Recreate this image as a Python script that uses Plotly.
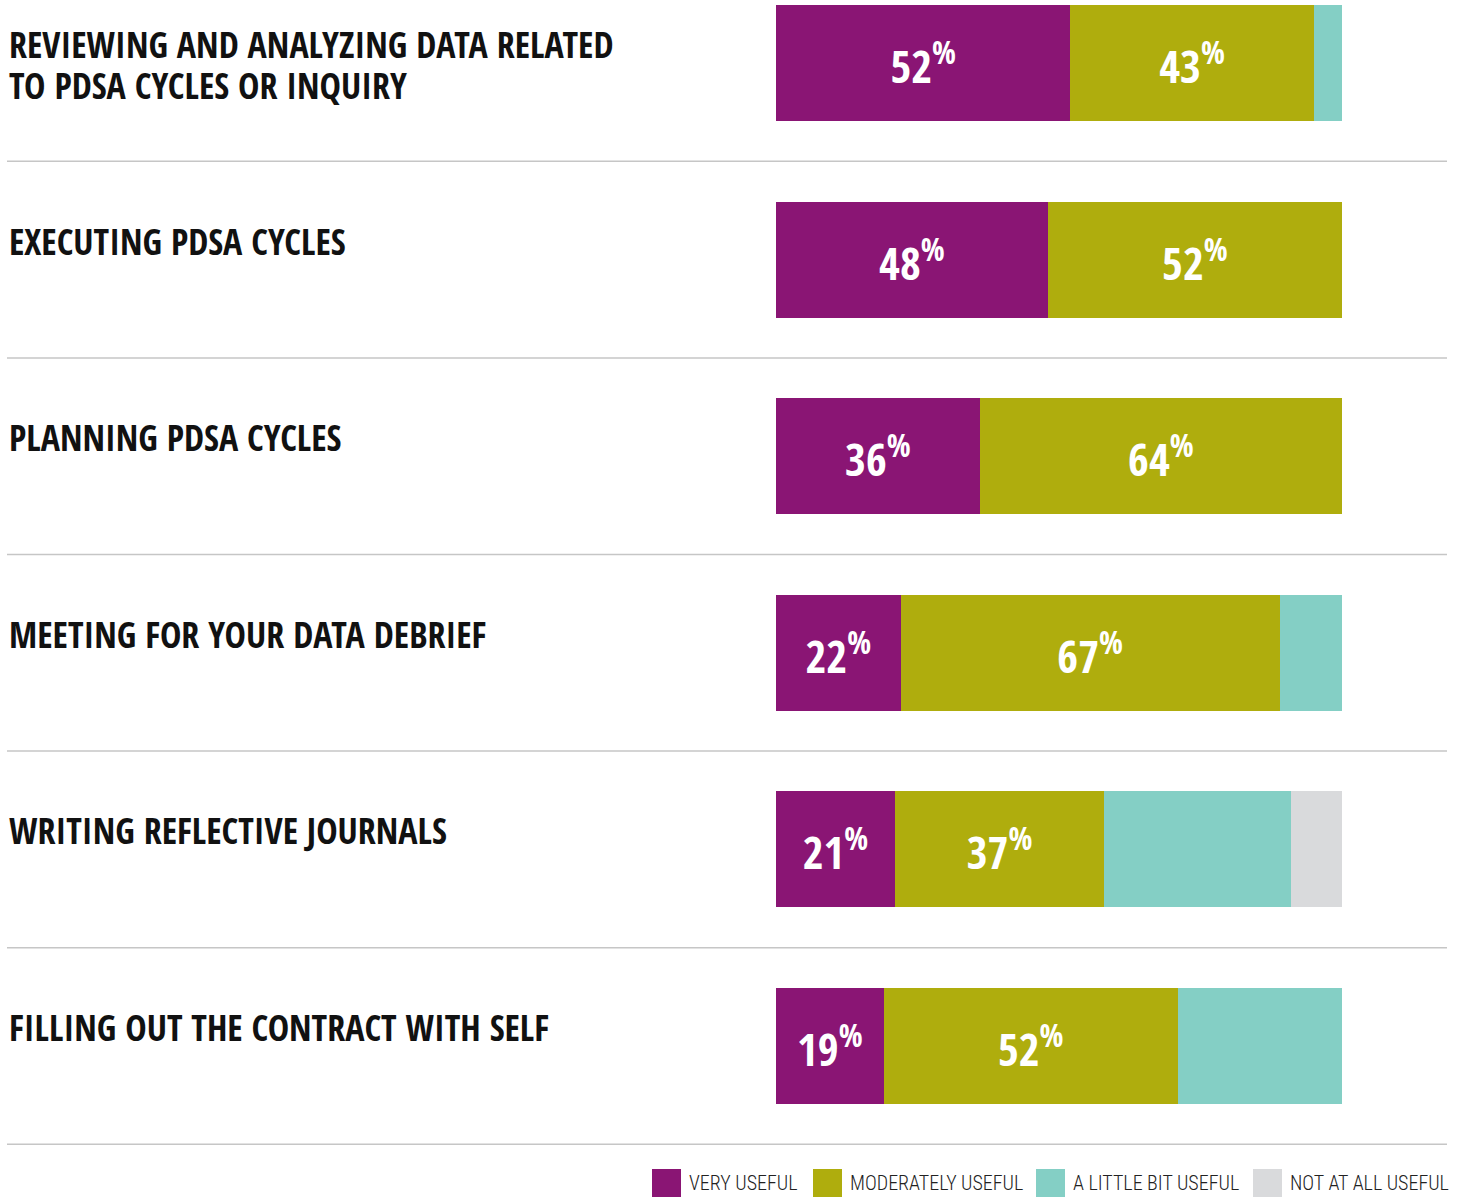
import plotly.graph_objects as go

categories = [
    "REVIEWING AND ANALYZING DATA RELATED<br>TO PDSA CYCLES OR INQUIRY",
    "EXECUTING PDSA CYCLES",
    "PLANNING PDSA CYCLES",
    "MEETING FOR YOUR DATA DEBRIEF",
    "WRITING REFLECTIVE JOURNALS",
    "FILLING OUT THE CONTRACT WITH SELF",
]
series_names = ["VERY USEFUL", "MODERATELY USEFUL", "A LITTLE BIT USEFUL", "NOT AT ALL USEFUL"]
very_useful = [52, 48, 36, 22, 21, 19]
moderately_useful = [43, 52, 64, 67, 37, 52]
little_bit_useful = [5, 0, 0, 11, 33, 29]
not_at_all_useful = [0, 0, 0, 0, 9, 0]
show_labels = [True, True, False, False]

colors = ["#8A1574", "#AFAD0D", "#84CFC5", "#D9DADC"]
series_values = [very_useful, moderately_useful, little_bit_useful, not_at_all_useful]

FONT = "Open Sans Condensed, Roboto Condensed, sans-serif"
FONT_LEG = "Roboto Condensed, Open Sans Condensed, sans-serif"

W, H = 1463, 1198
ML, MR = 7, 16
PW = W - ML - MR

def px_x(p):
    return (p - ML) / PW

def px_y(p):
    return 1 - p / H

ids = list(range(len(categories)))
fig = go.Figure()
for name, vals, col, lab in zip(series_names, series_values, colors, show_labels):
    texts = [f"{v}<sup>%</sup>" if (lab and v > 0) else "" for v in vals]
    fig.add_trace(go.Bar(
        y=ids, x=vals, orientation="h", name=name,
        marker=dict(color=col, line=dict(width=0)),
        text=texts, textposition="inside", insidetextanchor="middle",
        textfont=dict(family=FONT, size=45, color="white", weight=700),
        width=0.59, showlegend=False, hoverinfo="skip",
    ))

shapes = []
for i in ids:
    shapes.append(dict(type="line", xref="paper", yref="y", x0=0, x1=1, y0=i + 0.5, y1=i + 0.5,
                       line=dict(color="#C6C6C6", width=1.5)))

annotations = []
for i, c in enumerate(categories):
    for j, line in enumerate(c.split("<br>")):
        annotations.append(dict(
            xref="paper", yref="y", x=0, y=i, xanchor="left", yanchor="top", yshift=45 - 41 * j,
            text=line, showarrow=False, align="left",
            font=dict(family=FONT, size=36, color="#111111", weight=700),
        ))

leg_sq = [652, 813, 1036, 1253]
for x0, name, col in zip(leg_sq, series_names, colors):
    shapes.append(dict(type="rect", xref="paper", yref="paper",
                       x0=px_x(x0), x1=px_x(x0 + 29), y0=px_y(1197), y1=px_y(1169),
                       fillcolor=col, line=dict(width=0)))
    annotations.append(dict(
        xref="paper", yref="paper", x=px_x(x0 + 35), y=px_y(1183), xanchor="left", yanchor="middle",
        text=name, showarrow=False,
        font=dict(family=FONT_LEG, size=20, color="#222222", weight=300),
    ))

y_top = -63 / 196.6
y_bot = y_top + H / 196.6

fig.update_layout(
    width=W, height=H,
    margin=dict(l=ML, r=MR, t=0, b=0),
    barmode="stack",
    plot_bgcolor="white", paper_bgcolor="white",
    xaxis=dict(domain=[px_x(776), px_x(1342)], range=[0, 100], visible=False, fixedrange=True),
    yaxis=dict(range=[y_bot, y_top], visible=False, fixedrange=True),
    shapes=shapes, annotations=annotations,
    uniformtext=dict(minsize=10, mode="show"),
    showlegend=False,
)

fig.write_html("out.html")
